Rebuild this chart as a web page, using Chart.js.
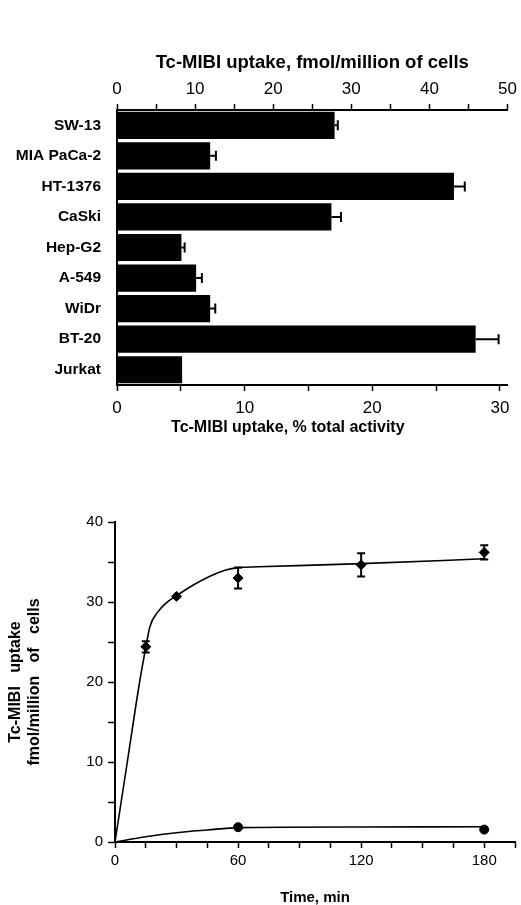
<!DOCTYPE html>
<html>
<head>
<meta charset="utf-8">
<script src="https://cdn.jsdelivr.net/npm/chart.js@4.4.0/dist/chart.umd.min.js"></script>
<style>
  body { margin: 0; background: #fff; }
  #barChart { position: absolute; left: 0; top: 0; }
  #timeChart { position: absolute; left: 0; top: 480px; }
</style>
</head>
<body>
<canvas id="barChart" width="521" height="470"></canvas>
<canvas id="timeChart" width="521" height="425"></canvas>
<script>
// top panel: uptake per cell line (% of total activity)
const cellLines = ["SW-13", "MIA PaCa-2", "HT-1376", "CaSki", "Hep-G2", "A-549", "WiDr", "BT-20", "Jurkat"];
const uptakePct = [17.05, 7.3, 26.4, 16.8, 5.05, 6.2, 7.3, 28.1, 5.1];
const uptakeErr = [0.25, 0.45, 0.85, 0.75, 0.25, 0.45, 0.4, 1.8, 0];
const pctTicks = [0, 5, 10, 15, 20, 25, 30];
const fmolTicks = [0, 5, 10, 15, 20, 25, 30, 35, 40, 45, 50];

// bottom panel: time course
const sampleTimes = [15, 30, 60, 120, 180];
const tumourUptake = [24.4, 30.7, 33.0, 34.65, 36.2];
const tumourErr = [0.7, 0, 1.3, 1.45, 0.9];
const controlTimes = [60, 180];
const controlUptake = [1.85, 1.55];
const fitTimes = [0, 6, 12, 15, 17, 21, 25, 30, 38, 46, 54, 60, 70, 120, 180];
const fitTumour = [0, 10, 20, 24.3, 26.9, 28.8, 29.9, 30.8, 32.1, 33.2, 34.0, 34.3, 34.4, 34.8, 35.4];
const fitControlTimes = [0, 15, 30, 45, 60, 120, 180];
const fitControl = [0, 0.66, 1.16, 1.5, 1.8, 1.88, 1.9];
const timeTicks = [0, 15, 30, 45, 60, 75, 90, 105, 120, 135, 150, 165, 180, 195];
const yTicks = [0, 5, 10, 15, 20, 25, 30, 35, 40];

const FONT = "'Liberation Sans', Arial, Helvetica, sans-serif";
Chart.defaults.font.family = FONT;
Chart.defaults.color = "#000";

const setTicks = list => scale => { scale.ticks = list.map(v => ({ value: v })); };

const barErrors = {
  id: "barErrors",
  afterDatasetsDraw(chart) {
    const ctx = chart.ctx;
    const xs = chart.scales.x;
    const bars = chart.getDatasetMeta(0).data;
    ctx.save();
    ctx.strokeStyle = "#000";
    ctx.lineWidth = 2;
    bars.forEach((bar, i) => {
      if (!uptakeErr[i]) return;
      const x0 = xs.getPixelForValue(uptakePct[i]);
      const x1 = xs.getPixelForValue(uptakePct[i] + uptakeErr[i]);
      ctx.beginPath();
      ctx.moveTo(x0, bar.y);
      ctx.lineTo(x1, bar.y);
      ctx.moveTo(x1, bar.y - 5);
      ctx.lineTo(x1, bar.y + 5);
      ctx.stroke();
    });
    ctx.restore();
  }
};

new Chart(document.getElementById("barChart"), {
  type: "bar",
  data: {
    labels: cellLines,
    datasets: [{
      data: uptakePct,
      backgroundColor: "#000",
      borderWidth: 0,
      categoryPercentage: 0.89,
      barPercentage: 1
    }]
  },
  options: {
    indexAxis: "y",
    responsive: false,
    animation: false,
    layout: { padding: { left: 0, right: 12, top: 0, bottom: 0 } },
    plugins: { legend: { display: false }, tooltip: { enabled: false } },
    scales: {
      x: {
        position: "bottom",
        min: 0,
        max: 30.6,
        afterBuildTicks: setTicks(pctTicks),
        afterFit: s => { s.height = 85; },
        ticks: {
          autoSkip: false, maxRotation: 0, padding: 7,
          font: { size: 17 },
          callback: v => (v % 10 === 0 ? v : "")
        },
        grid: { drawOnChartArea: false, tickLength: 6, tickColor: "#000", tickWidth: 1.5 },
        border: { color: "#000", width: 2 },
        title: {
          display: true,
          text: "Tc-MIBI uptake, % total activity           ",
          font: { size: 16, weight: "bold" },
          padding: { top: 0, bottom: 33 }
        }
      },
      x2: {
        axis: "x",
        position: "top",
        min: 0,
        max: 50,
        afterBuildTicks: setTicks(fmolTicks),
        afterFit: s => { s.height = 110; },
        ticks: {
          autoSkip: false, maxRotation: 0, padding: 4,
          font: { size: 17 },
          callback: v => (v % 10 === 0 ? v : "")
        },
        grid: { drawOnChartArea: false, tickLength: 6, tickColor: "#000", tickWidth: 1.5 },
        border: { color: "#000", width: 2 },
        title: {
          display: true,
          text: "Tc-MIBI uptake, fmol/million of cells",
          font: { size: 18.5, weight: "bold" },
          padding: { top: 52, bottom: 0 }
        }
      },
      y: {
        afterFit: s => { s.width = 117; },
        ticks: { padding: 16, font: { size: 15.5, weight: "bold" } },
        grid: { display: true, drawOnChartArea: false, drawTicks: false },
        border: { color: "#000", width: 2 }
      }
    }
  },
  plugins: [barErrors]
});

const pointErrors = {
  id: "pointErrors",
  afterDatasetsDraw(chart) {
    const ctx = chart.ctx;
    const xs = chart.scales.x;
    const ys = chart.scales.y;
    ctx.save();
    ctx.strokeStyle = "#000";
    ctx.lineWidth = 2;
    sampleTimes.forEach((t, i) => {
      if (!tumourErr[i]) return;
      const x = xs.getPixelForValue(t);
      const y0 = ys.getPixelForValue(tumourUptake[i] - tumourErr[i]);
      const y1 = ys.getPixelForValue(tumourUptake[i] + tumourErr[i]);
      ctx.beginPath();
      ctx.moveTo(x, y0);
      ctx.lineTo(x, y1);
      ctx.moveTo(x - 4, y0);
      ctx.lineTo(x + 4, y0);
      ctx.moveTo(x - 4, y1);
      ctx.lineTo(x + 4, y1);
      ctx.stroke();
    });
    ctx.restore();
  }
};

const pairs = (xs, ys) => xs.map((x, i) => ({ x: x, y: ys[i] }));

new Chart(document.getElementById("timeChart"), {
  type: "scatter",
  data: {
    datasets: [
      {
        data: pairs(fitTimes, fitTumour),
        showLine: true, pointRadius: 0, borderColor: "#000", borderWidth: 1.6,
        cubicInterpolationMode: "monotone"
      },
      {
        data: pairs(fitControlTimes, fitControl),
        showLine: true, pointRadius: 0, borderColor: "#000", borderWidth: 1.6,
        cubicInterpolationMode: "monotone"
      },
      {
        data: pairs(sampleTimes, tumourUptake),
        pointStyle: "rectRot", pointRadius: 5,
        backgroundColor: "#000", borderColor: "#000"
      },
      {
        data: pairs(controlTimes, controlUptake),
        pointStyle: "circle", pointRadius: 4.5,
        backgroundColor: "#000", borderColor: "#000"
      }
    ]
  },
  options: {
    responsive: false,
    animation: false,
    clip: false,
    layout: { padding: { left: 0, right: 1, top: 42, bottom: 0 } },
    plugins: { legend: { display: false }, tooltip: { enabled: false } },
    scales: {
      x: {
        type: "linear",
        min: 0,
        max: 195,
        afterBuildTicks: setTicks(timeTicks),
        afterFit: s => { s.height = 63; },
        ticks: {
          autoSkip: false, maxRotation: 0, padding: 4,
          font: { size: 15 },
          callback: v => (v % 60 === 0 ? v : "")
        },
        grid: { drawOnChartArea: false, tickLength: 6, tickColor: "#000", tickWidth: 1.5 },
        border: { color: "#000", width: 2 },
        title: {
          display: true,
          text: "Time, min",
          font: { size: 15, weight: "bold" },
          padding: { top: 0, bottom: -2 }
        }
      },
      y: {
        min: 0,
        max: 40,
        afterBuildTicks: setTicks(yTicks),
        afterFit: s => { s.width = 115; },
        ticks: {
          autoSkip: false, padding: 5,
          font: { size: 15 },
          callback: v => (v % 10 === 0 ? v : "")
        },
        grid: { drawOnChartArea: false, tickLength: 7, tickColor: "#000", tickWidth: 1.5 },
        border: { color: "#000", width: 2 },
        title: {
          display: true,
          text: ["Tc-MIBI   uptake", "fmol/million   of   cells"],
          font: { size: 16, weight: "bold" },
          padding: { top: 6, bottom: 0 }
        }
      }
    }
  },
  plugins: [pointErrors]
});
</script>
</body>
</html>
